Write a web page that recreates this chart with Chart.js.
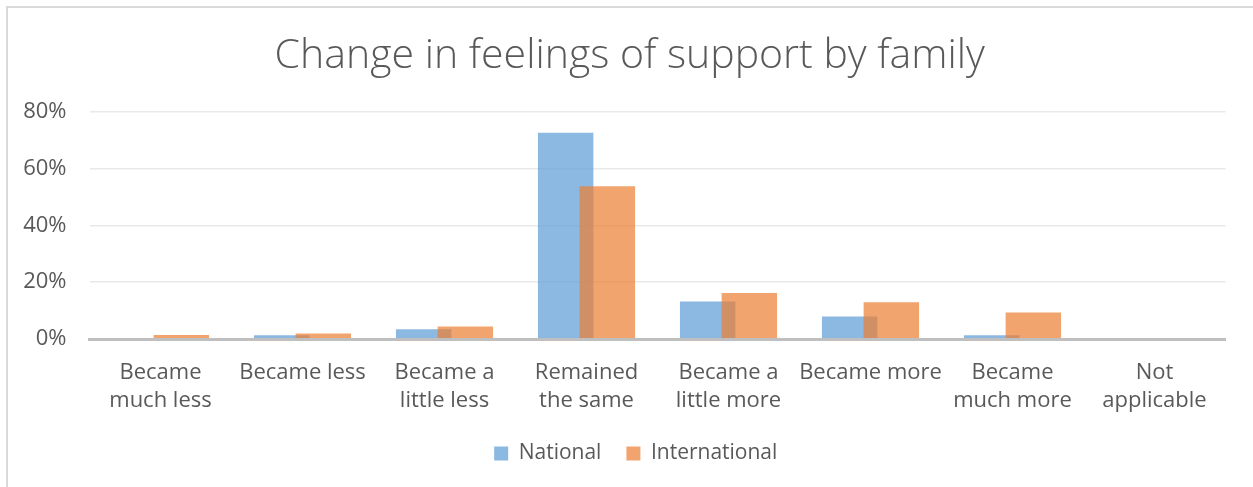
<!DOCTYPE html>
<html>
<head>
<meta charset="utf-8">
<title>Change in feelings of support by family</title>
<script src="https://cdn.jsdelivr.net/npm/chart.js@4.4.1/dist/chart.umd.min.js"></script>
<style>
  html, body { margin: 0; padding: 0; background: #ffffff; }
  #wrap { position: relative; width: 1253px; height: 487px; }
  canvas { display: block; }
</style>
</head>
<body>
<div id="wrap"><canvas id="chart" width="1253" height="487"></canvas></div>
<script>
// Survey answers (x categories), one array entry per tick label; arrays are wrapped lines.
const categories = [
  ["Became", "much less"],
  "Became less",
  ["Became a", "little less"],
  ["Remained", "the same"],
  ["Became a", "little more"],
  "Became more",
  ["Became", "much more"],
  ["Not", "applicable"]
];

// Share of respondents, in percent.
const nationalValues      = [0,   1.3, 3.4, 72.6, 13.2, 7.9, 1.3, 0];
const internationalValues = [1.4, 1.9, 4.4, 53.8, 16.2, 12.9, 9.3, 0];

const seriesNames = ["National", "International"];
const yTickValues = [0, 20, 40, 60, 80];
const chartTitle = "Change in feelings of support by family";

const TEXT = "#595959";
const FONT = '"Open Sans", "Liberation Sans", sans-serif';

// White page with the thin grey frame along the top and left edges.
const frame = {
  id: "frame",
  beforeDraw(chart) {
    const ctx = chart.ctx;
    ctx.save();
    ctx.fillStyle = "#ffffff";
    ctx.fillRect(0, 0, chart.width, chart.height);
    ctx.fillStyle = "#d9d9d9";
    ctx.fillRect(6, 6, chart.width - 6, 2);
    ctx.fillRect(6, 6, 2, chart.height - 6);
    ctx.restore();
  }
};

// Title and legend are centred on the whole card rather than on the area right of the y axis.
const cardCentring = {
  id: "cardCentring",
  afterLayout(chart) {
    const shift = (box, dx) => { if (box) { box.left += dx; box.right += dx; } };
    shift(chart.titleBlock, 17);
    shift(chart.legend, 23);
  }
};

// Paint the series first-to-last so the second series sits on top where bars overlap.
const seriesOrder = {
  id: "seriesOrder",
  beforeDatasetsDraw(chart) {
    const ctx = chart.ctx;
    const a = chart.chartArea;
    ctx.save();
    ctx.beginPath();
    ctx.rect(a.left, a.top - 4, a.right - a.left, a.bottom - a.top + 4);
    ctx.clip();
    chart.data.datasets.forEach((ds, i) => {
      if (chart.isDatasetVisible(i)) chart.getDatasetMeta(i).controller.draw();
    });
    ctx.restore();
    return false;
  }
};

new Chart(document.getElementById("chart"), {
  type: "bar",
  data: {
    labels: categories,
    datasets: [
      {
        label: seriesNames[0],
        data: nationalValues,
        backgroundColor: "rgba(91,155,213,0.7)",
        borderWidth: 0,
        categoryPercentage: 0.587,
        barPercentage: 1.33
      },
      {
        label: seriesNames[1],
        data: internationalValues,
        backgroundColor: "rgba(237,125,49,0.7)",
        borderWidth: 0,
        categoryPercentage: 0.587,
        barPercentage: 1.33
      }
    ]
  },
  options: {
    responsive: false,
    animation: false,
    devicePixelRatio: 1,
    layout: { padding: { left: 0, right: 27.5, top: 0, bottom: 13 } },
    plugins: {
      title: {
        display: true,
        text: chartTitle,
        color: TEXT,
        font: { family: FONT, size: 41, weight: 300, lineHeight: 1.2 },
        padding: { top: 32, bottom: 30.5 }
      },
      legend: {
        display: true,
        position: "bottom",
        labels: {
          color: TEXT,
          font: { family: FONT, size: 21 },
          boxWidth: 14,
          boxHeight: 14,
          padding: 25
        }
      },
      tooltip: { enabled: false }
    },
    scales: {
      x: {
        afterFit(scale) { scale.height = 79; },
        grid: { display: false, drawTicks: false },
        border: { display: true, color: "#bfbfbf", width: 3, z: 1 },
        ticks: {
          color: TEXT,
          font: { family: FONT, size: 22, lineHeight: 1.3 },
          padding: 19,
          autoSkip: false,
          maxRotation: 0,
          minRotation: 0
        }
      },
      y: {
        min: yTickValues[0],
        max: yTickValues[yTickValues.length - 1],
        afterFit(scale) { scale.width = 89.5; },
        afterBuildTicks(scale) { scale.ticks = yTickValues.map(v => ({ value: v })); },
        grid: { color: "#e9e9e9", lineWidth: 1.5, drawTicks: false },
        border: { display: false },
        ticks: {
          color: TEXT,
          font: { family: FONT, size: 22 },
          padding: 23,
          callback: v => v + "%"
        }
      }
    }
  },
  plugins: [frame, cardCentring, seriesOrder]
});
</script>
</body>
</html>
